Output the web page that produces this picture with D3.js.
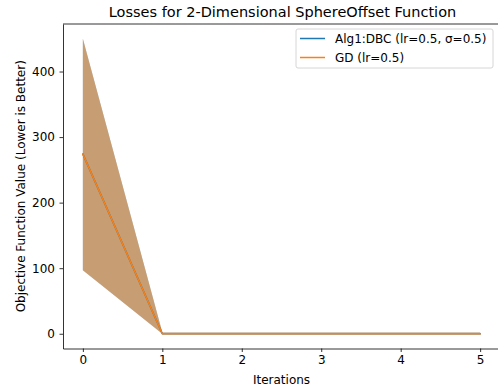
<!DOCTYPE html>
<html>
<head>
<meta charset="utf-8">
<script src="https://cdn.jsdelivr.net/npm/d3@7"></script>
<style>
  body { margin: 0; background: #fff; }
  text { font-family: "DejaVu Sans", sans-serif; fill: #000; }
</style>
</head>
<body>
<svg id="chart"></svg>
<script>
const iterations = [0, 1, 2, 3, 4, 5];
const dbcMean = [274, 0, 0, 0, 0, 0];
const dbcLower = [97, 0, 0, 0, 0, 0];
const dbcUpper = [450, 2, 2, 2, 2, 2];
const gdMean = [274, 0, 0, 0, 0, 0];
const gdLower = [97, 0, 0, 0, 0, 0];
const gdUpper = [450, 2, 2, 2, 2, 2];
const yTicks = [0, 100, 200, 300, 400];
const seriesNames = ['Alg1:DBC (lr=0.5, σ=0.5)', 'GD (lr=0.5)'];
const seriesColors = ['#1f77b4', '#ff7f0e'];

const w = 498, h = 390;
const svg = d3.select('#chart').attr('width', w).attr('height', h);

const plotLeft = 63, plotTop = 24, plotRight = 500, plotBottom = 348.5;

const x = d3.scaleLinear().domain([-0.25, 5.25]).range([plotLeft, plotRight]);
const y = d3.scaleLinear().domain([-22.5, 472.5]).range([plotBottom, plotTop]);

const series = [
  { mean: dbcMean, lo: dbcLower, hi: dbcUpper },
  { mean: gdMean, lo: gdLower, hi: gdUpper },
];

const area = d3.area()
  .x((d, i) => x(iterations[i]))
  .y0(d => y(d[0]))
  .y1(d => y(d[1]));

series.forEach((s, k) => {
  svg.append('path')
    .datum(s.lo.map((v, i) => [v, s.hi[i]]))
    .attr('d', area)
    .attr('fill', seriesColors[k])
    .attr('fill-opacity', 0.5);
});

const line = d3.line()
  .x((d, i) => x(iterations[i]))
  .y(d => y(d));

series.forEach((s, k) => {
  svg.append('path')
    .datum(s.mean)
    .attr('d', line)
    .attr('fill', 'none')
    .attr('stroke', seriesColors[k])
    .attr('stroke-width', 1.5)
    .attr('stroke-linejoin', 'round')
    .attr('stroke-linecap', 'square');
});

// axes
const xAxis = svg.append('g')
  .attr('transform', `translate(0,${plotBottom})`)
  .call(d3.axisBottom(x).tickValues(iterations).tickFormat(d3.format('d')).tickSize(3.5).tickSizeOuter(0).tickPadding(3.5));
const yAxis = svg.append('g')
  .attr('transform', `translate(${plotLeft},0)`)
  .call(d3.axisLeft(y).tickValues(yTicks).tickSize(3.5).tickSizeOuter(0).tickPadding(4.5));
[xAxis, yAxis].forEach(a => {
  a.selectAll('text').style('font-size', '12px').style('font-family', '"DejaVu Sans", sans-serif');
  a.selectAll('line').attr('stroke', '#000').attr('stroke-width', 0.8);
  a.select('.domain').attr('stroke', '#000').attr('stroke-width', 0.8);
});

// top spine
svg.append('line')
  .attr('x1', plotLeft).attr('x2', plotRight).attr('y1', plotTop).attr('y2', plotTop)
  .attr('stroke', '#000').attr('stroke-width', 0.8);

svg.append('text')
  .attr('x', 282.5).attr('y', 17)
  .attr('text-anchor', 'middle')
  .style('font-size', '14.5px')
  .text('Losses for 2-Dimensional SphereOffset Function');

svg.append('text')
  .attr('x', 281.5).attr('y', 383.5)
  .attr('text-anchor', 'middle')
  .style('font-size', '12px')
  .text('Iterations');

svg.append('text')
  .attr('transform', `translate(24.5,${(plotTop + plotBottom) / 2}) rotate(-90)`)
  .attr('text-anchor', 'middle')
  .style('font-size', '12px')
  .text('Objective Function Value (Lower is Better)');

// legend
const lg = svg.append('g').attr('transform', 'translate(296,29)');
lg.append('rect')
  .attr('width', 197).attr('height', 39).attr('rx', 2)
  .attr('fill', '#fff').attr('fill-opacity', 0.8)
  .attr('stroke', '#ccc').attr('stroke-width', 0.8);
seriesNames.forEach((name, i) => {
  const g = lg.append('g').attr('transform', `translate(0,${9.5 + i * 19})`);
  g.append('line')
    .attr('x1', 4).attr('x2', 29)
    .attr('stroke', seriesColors[i]).attr('stroke-width', 1.5);
  g.append('text')
    .attr('x', 39).attr('y', 4.3)
    .style('font-size', '12px')
    .text(name);
});
</script>
</body>
</html>
